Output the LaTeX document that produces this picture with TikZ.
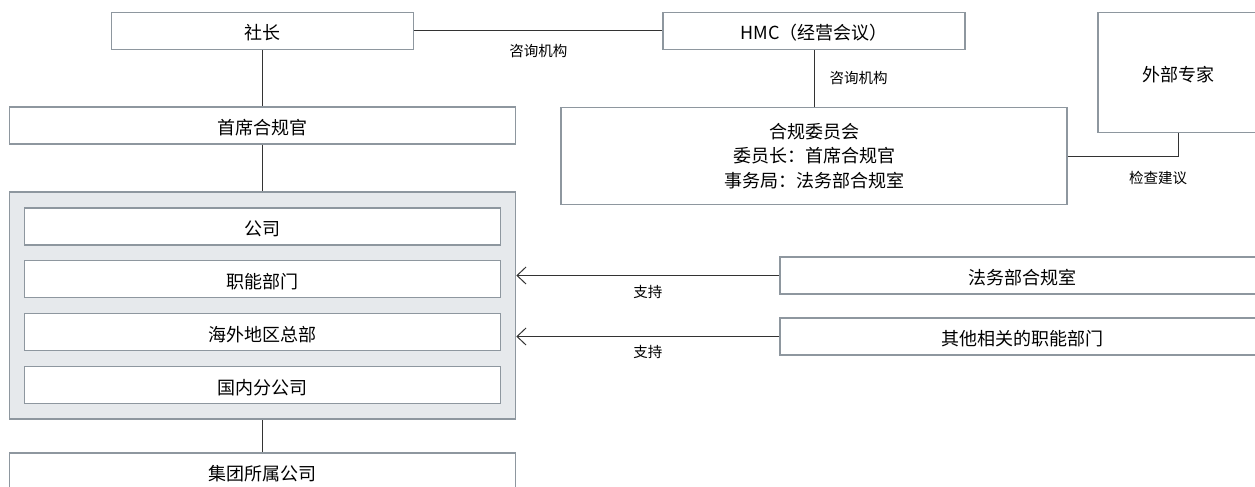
\documentclass[tikz,border=0pt]{standalone}
\usepackage{fontspec}
\setmainfont{Noto Sans CJK SC}
\usepackage{xcolor}
\usetikzlibrary{arrows.meta}
\definecolor{khung}{HTML}{8E979F}
\definecolor{nen}{HTML}{E6E9EC}
\definecolor{net}{HTML}{333333}

\begin{document}
\begin{tikzpicture}[x=1pt,y=-1pt,
		obox/.style={draw=khung,line width=1.2pt,fill=white,inner sep=0pt,minimum height=37pt,font=\fontsize{18}{24.5}\selectfont},
		tbox/.style={obox,text height=18pt,text depth=0pt},
		lab/.style={inner sep=0pt,font=\fontsize{14.5}{16}\selectfont},
		noi/.style={draw=net,line width=1pt}]
			\useasboundingbox (0,0) rectangle (1255,487);
			\clip (0,0) rectangle (1255,487);
			% Khung tren
			\node[tbox,minimum width=302pt] (sz) at (262.5,31) {社长};
			\node[tbox,minimum width=302pt] (hmc) at (814,31) {HMC（经营会议）};
			\node[tbox,minimum width=160pt,minimum height=120pt] (wb) at (1178,72.2) {外部专家};
			\node[tbox,minimum width=506pt] (sx) at (262.5,125.5) {首席合规官};
			\node[obox,minimum width=506pt,minimum height=97.5pt,align=center] (hg) at (814,156) {合规委员会\\委员长：首席合规官\\事务局：法务部合规室};
			% Khung xam va cac khung con
			\node[draw=khung,fill=nen,line width=1.6pt,minimum width=506pt,minimum height=227pt] (zz) at (262.5,305.7) {};
			\foreach \t[count =\i from 0] in {公司,职能部门,海外地区总部,国内分公司}
			\node[tbox,minimum width=476pt] (p\i) at (262.5,226.4+\i*52.9) {\t};
			\node[tbox,minimum width=506pt] (jt) at (262.5,471.5) {集团所属公司};
			\node[tbox,minimum width=484pt] (fw) at (1022,275.5) {法务部合规室};
			\node[tbox,minimum width=484pt] (qt) at (1022,336.5) {其他相关的职能部门};
			% Noi
			\draw[noi] (sz) -- node[lab,below=13pt] {咨询机构} (hmc);
			\draw[noi] (hmc) -- node[lab,right=15pt] {咨询机构} (hg);
			\draw[noi] (hg.east) -| node[lab,below=15pt,pos=0.41] {检查建议} (wb.south);
			\draw[noi] (sz) -- (sx);
			\draw[noi] (sx) -- (zz);
			\draw[noi] (zz) -- (jt);
			\draw[noi,-{Straight Barb[length=9pt,width=17pt]}] (fw.west) -- node[lab,below=9pt] {支持} (fw.west -| zz.east);
			\draw[noi,-{Straight Barb[length=9pt,width=17pt]}] (qt.west) -- node[lab,below=8pt] {支持} (qt.west -| zz.east);
		\end{tikzpicture}
\end{document}
